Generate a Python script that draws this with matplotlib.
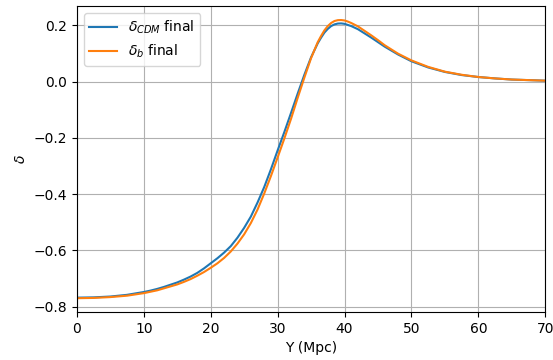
import numpy as np
import matplotlib
matplotlib.use("Agg")
import matplotlib.pyplot as plt

# positions (Mpc)
y_mpc = [0, 2.5, 5, 7.5, 10, 11, 12, 13, 14, 15, 16, 17, 18, 19, 20, 21, 22, 23, 24,
         25, 26, 27, 28, 29, 30, 31, 32, 33, 34, 35, 36, 36.5, 37, 37.5, 38, 38.5,
         39, 39.5, 40, 40.5, 41, 42, 43, 44, 45, 46, 48, 50, 52.5, 55, 57.5, 60,
         62.5, 65, 67.5, 70]

# delta CDM final
delta_cdm = [-0.768, -0.767, -0.764, -0.758, -0.748, -0.743, -0.737, -0.730, -0.722,
             -0.714, -0.704, -0.693, -0.680, -0.664, -0.646, -0.628, -0.608, -0.585,
             -0.555, -0.520, -0.480, -0.430, -0.375, -0.312, -0.245, -0.180, -0.112,
             -0.043, 0.024, 0.086, 0.136, 0.156, 0.174, 0.187, 0.197, 0.203, 0.206,
             0.2065, 0.205, 0.201, 0.197, 0.186, 0.171, 0.156, 0.140, 0.124, 0.096,
             0.072, 0.050, 0.034, 0.023, 0.016, 0.011, 0.007, 0.005, 0.003]

# delta baryons final
delta_b = [-0.770, -0.769, -0.766, -0.761, -0.752, -0.747, -0.742, -0.735, -0.728,
           -0.721, -0.712, -0.702, -0.690, -0.677, -0.662, -0.646, -0.627, -0.604,
           -0.576, -0.543, -0.503, -0.455, -0.398, -0.336, -0.270, -0.203, -0.133,
           -0.058, 0.014, 0.083, 0.140, 0.162, 0.182, 0.197, 0.208, 0.215, 0.218,
           0.2185, 0.217, 0.213, 0.208, 0.196, 0.180, 0.164, 0.147, 0.129, 0.099,
           0.075, 0.052, 0.035, 0.024, 0.016, 0.011, 0.007, 0.005, 0.003]

fig = plt.figure(figsize=(5.53, 3.6), dpi=100)
ax = fig.add_axes([0.139, 0.133, 0.847, 0.85])

ax.plot(y_mpc, delta_cdm, label=r"$\delta_{CDM}$ final")
ax.plot(y_mpc, delta_b, label=r"$\delta_b$ final")

ax.set_xlim(0, 70)
ax.set_xlabel("Y (Mpc)")
ax.set_ylabel(r"$\delta$")
ax.grid(True)
ax.legend(loc="upper left")

fig.savefig("out.png", dpi=100)
